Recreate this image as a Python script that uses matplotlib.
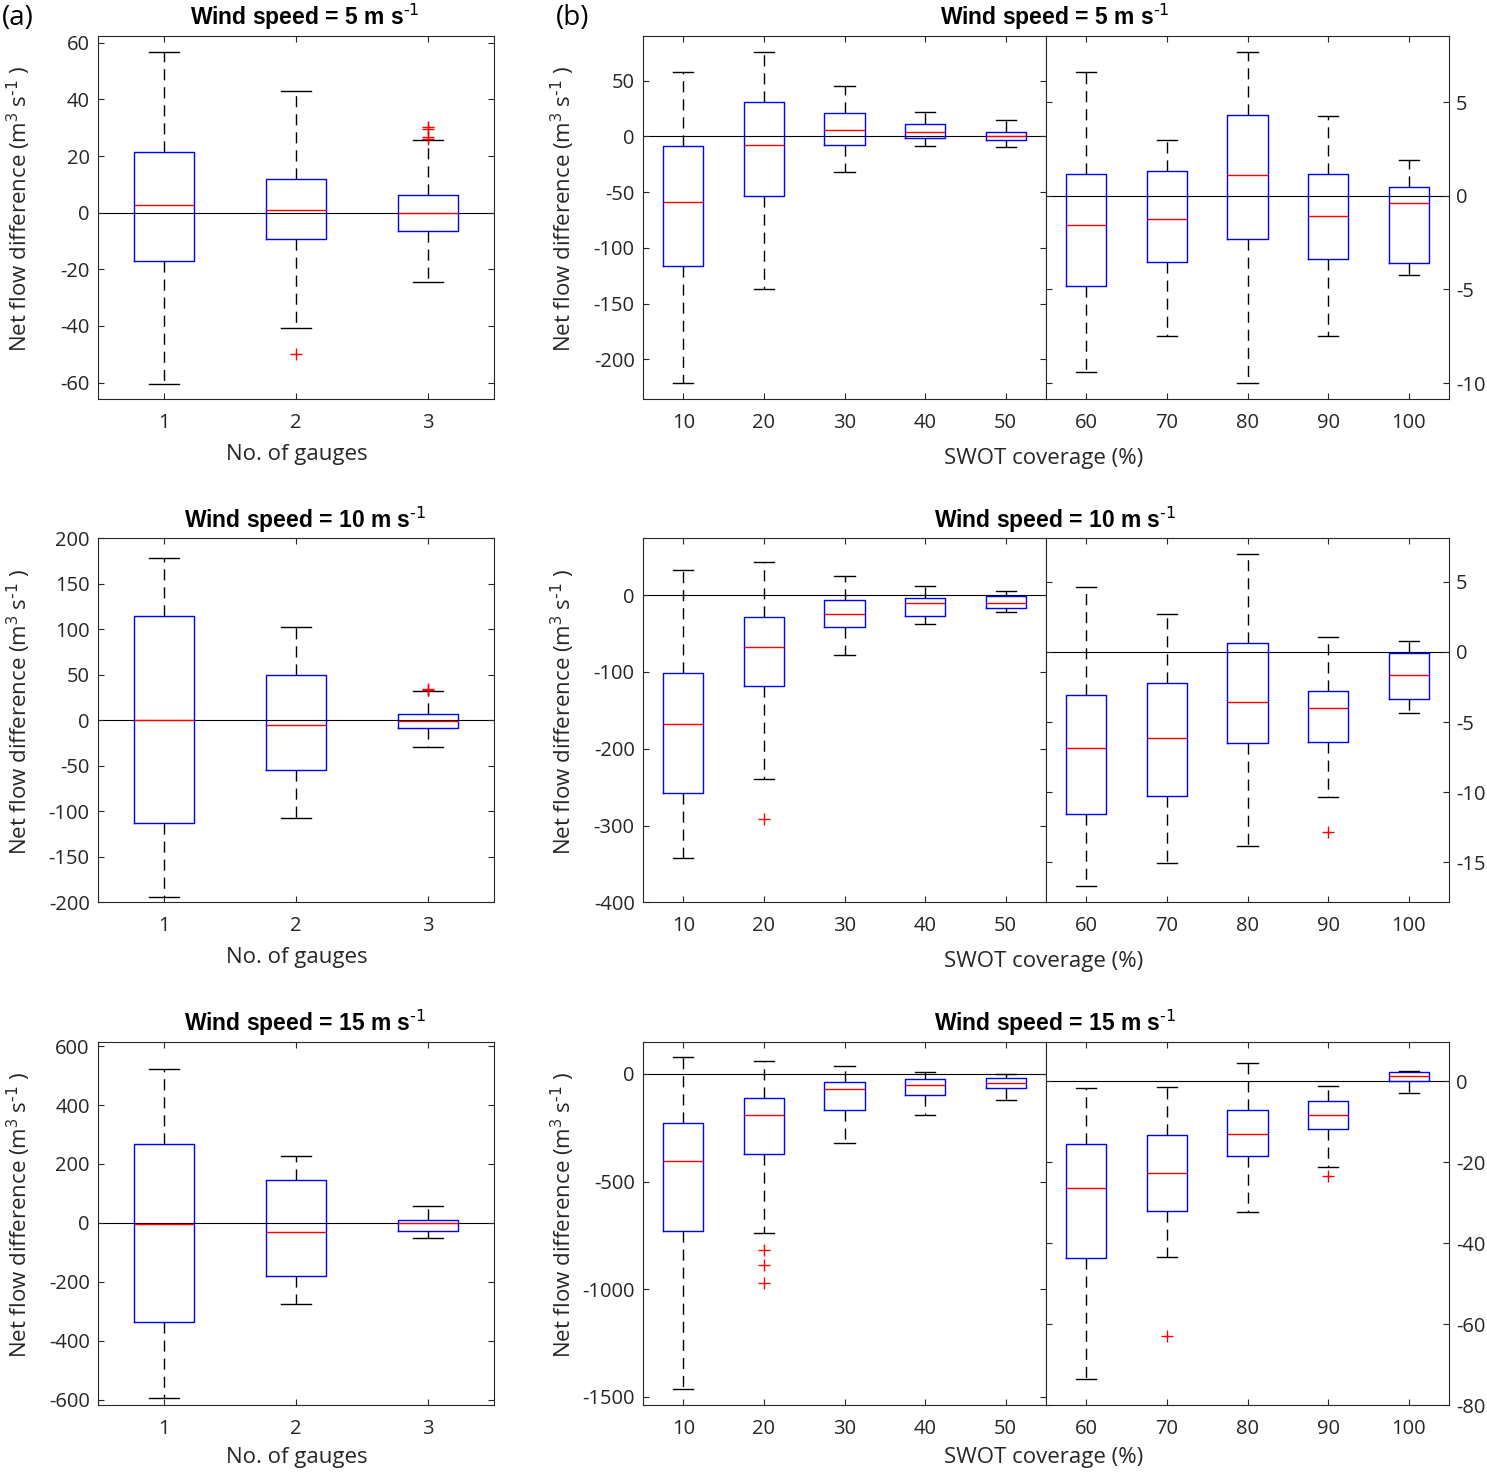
import matplotlib
matplotlib.use("Agg")
import matplotlib.pyplot as plt

plt.rcParams['font.family'] = ['Open Sans', 'DejaVu Sans']
plt.rcParams['mathtext.default'] = 'regular'
plt.rcParams['axes.unicode_minus'] = False

# ---- data ----
wind_speeds = [5, 10, 15]
gauges = [1, 2, 3]
coverage_low = [10, 20, 30, 40, 50]
coverage_high = [60, 70, 80, 90, 100]

# each box: (lower whisker, q1, median, q3, upper whisker)
gauge_w5 = [(-60.5, -17.2, 2.7, 21.6, 56.6), (-40.8, -9.4, 0.9, 11.8, 43.0), (-24.6, -6.5, -0.2, 6.2, 25.6)]
gauge_w5_out = [[], [-49.9], [26.0, 26.6, 29.5, 30.1]]
gauge_w10 = [(-193.7, -113.3, 0.0, 114.4, 178.0), (-107.8, -54.1, -5.1, 49.3, 102.7), (-29.2, -8.8, -0.7, 6.9, 31.8)]
gauge_w10_out = [[], [], [32.9, 34.7]]
gauge_w15 = [(-595, -336, -2.3, 267, 522.6), (-274.9, -181, -29.4, 147, 227.4), (-52, -26, -1.1, 11.3, 56.6)]
gauge_w15_out = [[], [], []]

cov_low_w5 = [(-221.5, -116.4, -59.1, -8.4, 57.9), (-137.3, -53.1, -8.1, 30.7, 75.5), (-32.2, -7.8, 6.0, 20.9, 45.1),
              (-9.0, -1.5, 3.6, 11.3, 21.8), (-9.3, -3.6, 0.3, 3.6, 14.3)]
cov_low_w5_out = [[], [], [], [], []]
cov_high_w5 = [(-9.41, -4.80, -1.53, 1.17, 6.64), (-7.49, -3.54, -1.21, 1.33, 2.97), (-10.02, -2.30, 1.10, 4.32, 7.69),
               (-7.51, -3.38, -1.09, 1.17, 4.27), (-4.23, -3.56, -0.39, 0.48, 1.90)]
cov_high_w5_out = [[], [], [], [], []]

cov_low_w10 = [(-342, -257.1, -168, -100.9, 32.9), (-239, -118.6, -67.1, -28.6, 43.7), (-77.5, -41.6, -24.7, -6.1, 25.1),
               (-38.1, -27.7, -10.4, -4.3, 11.7), (-22.5, -16.9, -10.0, -1.3, 5.6)]
cov_low_w10_out = [[], [-290.9], [], [], []]
cov_high_w10 = [(-16.7, -11.52, -6.84, -3.06, 4.66), (-15.06, -10.26, -6.15, -2.19, 2.73), (-13.82, -6.48, -3.59, 0.62, 6.98),
                (-10.36, -6.39, -3.99, -2.78, 1.09), (-4.32, -3.37, -1.64, -0.07, 0.76)]
cov_high_w10_out = [[], [], [], [-12.8], []]

cov_low_w15 = [(-1462.8, -727.6, -404, -226, 77.4), (-736.8, -373, -190.4, -109.9, 61.9), (-318.9, -165.6, -68.1, -38.7, 38.7),
               (-188.9, -97.5, -49.5, -23.2, 10.8), (-120.7, -65, -40.2, -20.1, 1.5)]
cov_low_w15_out = [[], [-817, -888.5, -969], [], [], []]
cov_high_w15 = [(-73.4, -43.6, -26.5, -15.63, -1.73), (-43.3, -32.1, -22.6, -13.3, -1.56), (-32.4, -18.43, -13.16, -7.08, 4.36),
                (-21.1, -11.93, -8.47, -5.02, -1.32), (-2.88, 0.0, 1.15, 2.3, 2.39)]
cov_high_w15_out = [[], [-62.9], [], [-23.5], []]

W, H = 1487, 1472
DARK = '#262626'
TICK_FS = 14.5
LABEL_FS = 16
TITLE_FS = 16.5


def rect(x0, x1, y0, y1):
    # pixel box -> figure fraction
    return [x0 / W, 1 - y1 / H, (x1 - x0) / W, (y1 - y0) / H]


def fig_text(fig, x, y, s, **kw):
    fig.text(x / W, 1 - y / H, s, **kw)


def draw_boxes(ax, boxes, outliers, width, capwidth):
    stats = []
    for (lo, q1, med, q3, hi), fl in zip(boxes, outliers):
        stats.append({'whislo': lo, 'q1': q1, 'med': med, 'q3': q3, 'whishi': hi, 'fliers': fl})
    ax.axhline(0, color='k', lw=0.8, zorder=1)
    ax.bxp(stats, positions=list(range(1, len(stats) + 1)), widths=width, capwidths=capwidth,
           manage_ticks=False, zorder=2,
           boxprops=dict(color='#0000ff', lw=1.0),
           medianprops=dict(color='#ff0000', lw=1.0),
           whiskerprops=dict(color='k', lw=1.0, linestyle=(0, (8, 5))),
           capprops=dict(color='k', lw=1.0),
           flierprops=dict(marker='+', markeredgecolor='#ff0000', markersize=9, markeredgewidth=1.0))


def style_axes(ax, labels, yticks, ylim, side='left'):
    ax.set_xlim(0.5, len(labels) + 0.5)
    ax.set_xticks(range(1, len(labels) + 1))
    ax.set_xticklabels([str(l) for l in labels])
    ax.set_ylim(ylim)
    ax.set_yticks(yticks)
    ax.set_yticklabels([str(t) for t in yticks])
    ax.tick_params(direction='in', length=4, width=0.8, color=DARK, labelcolor=DARK,
                   labelsize=TICK_FS, top=True, bottom=True, left=True, right=True)
    ax.tick_params(axis='x', pad=10)
    ax.tick_params(axis='y', pad=6)
    if side == 'right':
        ax.tick_params(axis='y', labelleft=False, labelright=True, pad=5)
    for sp in ax.spines.values():
        sp.set_color(DARK)
        sp.set_linewidth(0.8)


fig = plt.figure(figsize=(W / 100, H / 100), dpi=100)

rows = [(36, 399), (538.3, 902.3), (1041.7, 1405.3)]
gauge_boxes = [(gauge_w5, gauge_w5_out), (gauge_w10, gauge_w10_out), (gauge_w15, gauge_w15_out)]
low_boxes = [(cov_low_w5, cov_low_w5_out), (cov_low_w10, cov_low_w10_out), (cov_low_w15, cov_low_w15_out)]
high_boxes = [(cov_high_w5, cov_high_w5_out), (cov_high_w10, cov_high_w10_out), (cov_high_w15, cov_high_w15_out)]

gauge_yticks = [list(range(-60, 61, 20)), list(range(-200, 201, 50)), list(range(-600, 601, 200))]
gauge_ylims = [(-65.8, 62.4), (-200, 200), (-619, 615)]
low_yticks = [list(range(-200, 51, 50)), list(range(-400, 1, 100)), list(range(-1500, 1, 500))]
low_ylims = [(-235.5, 89.9), (-399, 74), (-1539, 150)]
high_yticks = [[-10, -5, 0, 5], list(range(-15, 6, 5)), list(range(-80, 1, 20))]
high_ylims = [(-10.85, 8.54), (-17.84, 8.1), (-80, 9.7)]

title_base = [25, 527.7, 1031]
gauge_xlab = [460, 963, 1463]
swot_xlab = [464, 966.7, 1463]

ylab = r'Net flow difference (m$^{3}$ s$^{\text{-1}}$ )'

for i, (top, bot) in enumerate(rows):
    title = r'Wind speed = %d m s$^{\text{-1}}$' % wind_speeds[i]
    mid = (top + bot) / 2

    # (a) number of gauges
    ax = fig.add_axes(rect(98, 494, top, bot))
    draw_boxes(ax, gauge_boxes[i][0], gauge_boxes[i][1], 0.45, 0.22)
    style_axes(ax, gauges, gauge_yticks[i], gauge_ylims[i])
    fig_text(fig, 305, title_base[i], title, ha='center', va='baseline', fontsize=TITLE_FS,
             fontweight='bold', family=['Liberation Sans', 'DejaVu Sans'])
    fig_text(fig, 297, gauge_xlab[i], 'No. of gauges', ha='center', va='baseline', fontsize=LABEL_FS, color=DARK)
    fig_text(fig, 19, mid - 9, ylab, ha='center', va='center', rotation=90, fontsize=LABEL_FS, color=DARK)

    # (b) SWOT coverage, split into two axes
    axl = fig.add_axes(rect(643, 1046, top, bot))
    draw_boxes(axl, low_boxes[i][0], low_boxes[i][1], 0.5, 0.25)
    style_axes(axl, coverage_low, low_yticks[i], low_ylims[i])

    axr = fig.add_axes(rect(1046, 1449, top, bot))
    draw_boxes(axr, high_boxes[i][0], high_boxes[i][1], 0.5, 0.25)
    style_axes(axr, coverage_high, high_yticks[i], high_ylims[i], side='right')

    fig_text(fig, 1055, title_base[i], title, ha='center', va='baseline', fontsize=TITLE_FS,
             fontweight='bold', family=['Liberation Sans', 'DejaVu Sans'])
    fig_text(fig, 1044, swot_xlab[i], 'SWOT coverage (%)', ha='center', va='baseline', fontsize=LABEL_FS, color=DARK)
    fig_text(fig, 563, mid - 9, ylab, ha='center', va='center', rotation=90, fontsize=LABEL_FS, color=DARK)

fig_text(fig, 18, 18, '(a)', ha='center', va='center', fontsize=20)
fig_text(fig, 573, 18, '(b)', ha='center', va='center', fontsize=20)

fig.savefig('out.png', dpi=100)
plt.close(fig)
